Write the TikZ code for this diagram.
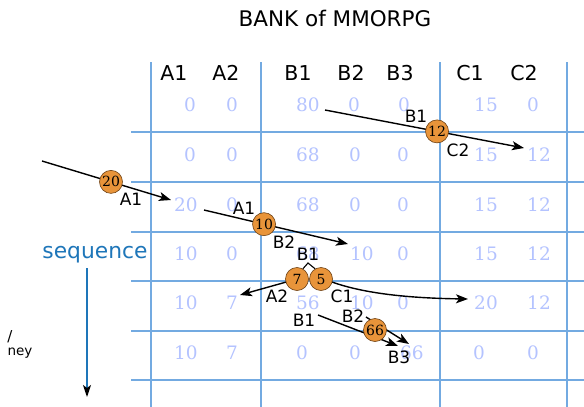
\documentclass[tikz,border=0pt]{standalone}
\usepackage{fontspec}
\setmainfont{DejaVu Sans}
\newfontfamily\valfont{DejaVu Serif}
\usetikzlibrary{arrows.meta}
\definecolor{gridblue}{RGB}{115,170,225}
\definecolor{valblue}{RGB}{180,195,255}
\definecolor{seqblue}{RGB}{30,118,185}
\definecolor{coinorange}{RGB}{232,148,58}
\definecolor{coinedge}{RGB}{110,65,20}
\tikzset{
  gridline/.style={draw=gridblue, line width=1.3pt},
  hdr/.style={font=\fontsize{20.5}{24}\selectfont, inner sep=0pt},
  val/.style={font=\valfont\fontsize{18.5}{22}\selectfont, text=valblue, inner sep=0pt},
  lbl/.style={font=\fontsize{17}{20}\selectfont, inner sep=0pt},
  coin/.style={circle, fill=coinorange, draw=coinedge, line width=0.6pt, minimum size=23pt, inner sep=0pt, font=\valfont\fontsize{14}{16}\selectfont},
  flow/.style={-{Stealth[length=12pt,width=9pt,inset=3pt]}, line width=1.4pt, black},
  plainflow/.style={line width=1.1pt, black}
}
\begin{document}
\begin{tikzpicture}[x=1pt,y=-1pt]
\useasboundingbox (0,0) rectangle (584,407);
\clip (0,0) rectangle (584,407);
\fill[white] (0,0) rectangle (584,407);

% title
\node[font=\fontsize{21.5}{25}\selectfont] (title) at (335,18) {BANK of MMORPG};

% grid
\foreach \x in {151,261,440,567} \draw[gridline] (\x,62) -- (\x,407);
\foreach \y in {132,182,232,281,331,380} \draw[gridline] (131,\y) -- (584,\y);

% headers
\node[hdr] (hA1) at (174,73) {A1};
\node[hdr] (hA2) at (226,73) {A2};
\node[hdr] (hB1) at (298,73) {B1};
\node[hdr] (hB2) at (351,73) {B2};
\node[hdr] (hB3) at (400,73) {B3};
\node[hdr] (hC1) at (470,73) {C1};
\node[hdr] (hC2) at (524,73) {C2};

% values row 1
\node[val] (r1a1) at (190,105) {0};
\node[val] (r1a2) at (232,105) {0};
\node[val] (r1b1) at (308,105) {80};
\node[val] (r1b2) at (354,105) {0};
\node[val] (r1b3) at (404,105) {0};
\node[val] (r1c1) at (486,105) {15};
\node[val] (r1c2) at (533,105) {0};
% row 2
\node[val] (r2a1) at (190,155) {0};
\node[val] (r2a2) at (232,155) {0};
\node[val] (r2b1) at (308,155) {68};
\node[val] (r2b2) at (355,155) {0};
\node[val] (r2b3) at (403,155) {0};
\node[val] (r2c1) at (486,155) {15};
\node[val] (r2c2) at (539,155) {12};
% row 3
\node[val] (r3a1) at (186,205) {20};
\node[val] (r3a2) at (232,205) {0};
\node[val] (r3b1) at (308,205) {68};
\node[val] (r3b2) at (355,205) {0};
\node[val] (r3b3) at (403,205) {0};
\node[val] (r3c1) at (486,205) {15};
\node[val] (r3c2) at (539,205) {12};
% row 4
\node[val] (r4a1) at (186,254) {10};
\node[val] (r4a2) at (232,254) {0};
\node[val] (r4b1) at (308,254) {68};
\node[val] (r4b2) at (362,254) {10};
\node[val] (r4b3) at (403,254) {0};
\node[val] (r4c1) at (486,254) {15};
\node[val] (r4c2) at (539,254) {12};
% row 5
\node[val] (r5a1) at (186,303) {10};
\node[val] (r5a2) at (232,303) {7};
\node[val] (r5b1) at (308,303) {56};
\node[val] (r5b2) at (362,303) {10};
\node[val] (r5b3) at (403,303) {0};
\node[val] (r5c1) at (486,303) {20};
\node[val] (r5c2) at (539,303) {12};
% row 6
\node[val] (r6a1) at (186,353) {10};
\node[val] (r6a2) at (232,353) {7};
\node[val] (r6b1) at (302,353) {0};
\node[val] (r6b2) at (355,353) {0};
\node[val] (r6b3) at (412,353) {66};
\node[val] (r6c1) at (479,353) {0};
\node[val] (r6c2) at (533,353) {0};

% sequence
\node[font=\fontsize{21.8}{25}\selectfont, text=seqblue, inner sep=0pt, anchor=base] (seq) at (95,258) {sequence};
\coordinate (seqstart) at (87,268);
\coordinate (seqend) at (87,397);
\draw[seqblue, line width=1.4pt, -{Stealth[length=12pt,width=8pt,inset=3pt,color=black]}] (seqstart) -- (seqend);

% clipped side text
\node[font=\fontsize{15}{16}\selectfont, inner sep=0pt] (sideA) at (10,337) {/};
\node[font=\fontsize{13.5}{16}\selectfont, inner sep=0pt] (sideB) at (20,353) {ney};

% transfer 1: B1 -> C2
\coordinate (t1s) at (325,110);
\coordinate (t1e) at (524,148);
\draw[flow] (t1s) -- node[coin, pos=0.563] (c12) {12} (t1e);
\node[lbl] (l1a) at (416,116) {B1};
\node[lbl] (l1b) at (458,150) {C2};

% transfer 2: deposit -> A1
\coordinate (t2s) at (42,161);
\coordinate (t2e) at (171,200);
\draw[flow] (t2s) -- node[coin, pos=0.535] (c20) {20} (t2e);
\node[lbl] (l2a) at (131,199) {A1};

% transfer 3: A1 -> B2
\coordinate (t3s) at (204,210);
\coordinate (t3e) at (348,244);
\draw[flow] (t3s) -- node[coin, pos=0.417] (c10) {10} (t3e);
\node[lbl] (l3a) at (244,208) {A1};
\node[lbl] (l3b) at (284,242) {B2};

% transfer 4: B1 -> A2, C1
\node[lbl] (l4a) at (308,254) {B1};
\coordinate (apex) at (308,263);
\coordinate (t4e1) at (240,295);
\coordinate (t4s2) at (332,282);
\coordinate (t4e2) at (468,299);
\coordinate (t4s1) at (297,279);
\draw[flow] (t4s1) -- (t4e1);
\draw[flow] (t4s2) .. controls (360,292) and (400,298) .. (t4e2);
\node[coin] (c7) at (297,279) {7};
\node[coin] (c5) at (321,279) {5};
\draw[plainflow] (c7.60) -- (apex) -- (c5.120);
\node[lbl] (l4b) at (277,296) {A2};
\node[lbl] (l4c) at (342,296) {C1};

% transfer 5: B1, B2 -> B3
\coordinate (t5s1) at (318,315);
\coordinate (t5e1) at (398,346);
\coordinate (t5s2) at (366,317);
\coordinate (t5e2) at (409,344);
\draw[flow] (t5s1) -- (t5e1);
\draw[flow] (t5s2) -- (t5e2);
\node[coin] (c66) at (375,330) {66};
\node[lbl] (l5a) at (304,320) {B1};
\node[lbl] (l5b) at (353,316) {B2};
\node[lbl] (l5c) at (399,357) {B3};
\end{tikzpicture}
\end{document}
